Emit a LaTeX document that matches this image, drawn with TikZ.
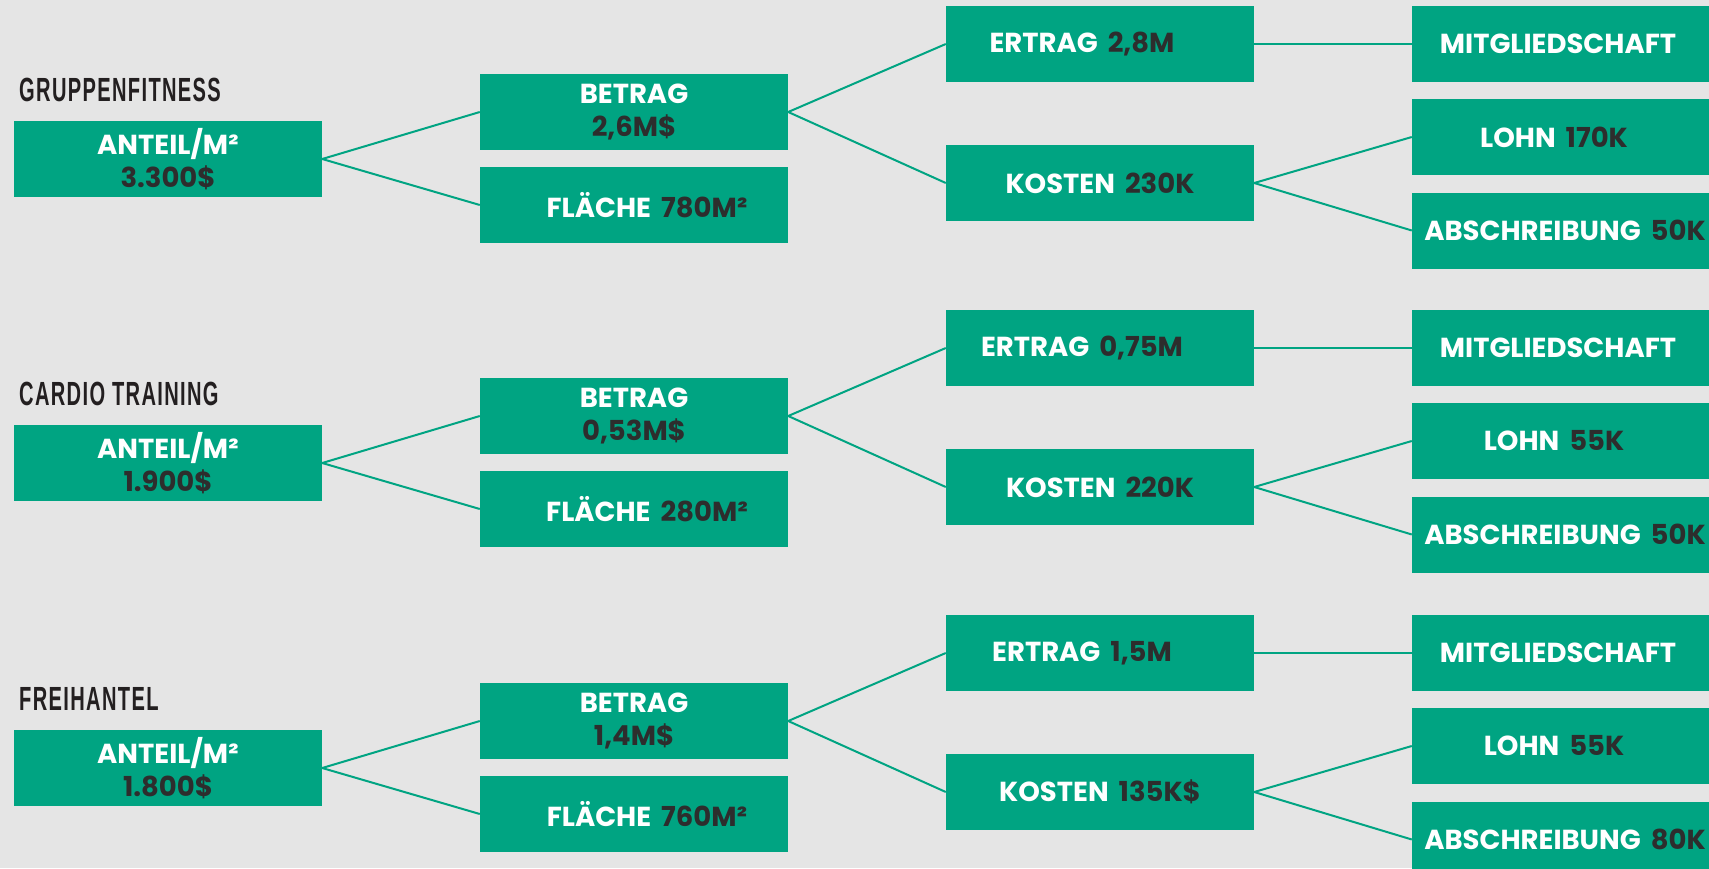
\documentclass[tikz,border=0pt]{standalone}
\usepackage{fontspec}
\setmainfont{Poppins}[UprightFont=* Bold, BoldFont=* Bold]
\newfontfamily\headfont{Liberation Sans}[UprightFont=* Bold, FakeStretch=0.6, LetterSpace=4]
\definecolor{bggray}{HTML}{E5E5E5}
\definecolor{boxgreen}{HTML}{00A482}
\definecolor{darktext}{HTML}{2D2D2D}
\definecolor{headtext}{HTML}{231F20}
\tikzset{
  box/.style={fill=boxgreen, minimum width=308pt, minimum height=76pt, inner sep=0pt},
  txt/.style={text=white, align=center, inner sep=0pt, font=\fontsize{27.5}{33}\selectfont},
  head/.style={anchor=base west, inner sep=0pt, text=headtext, font=\headfont\fontsize{33.5}{36}\selectfont},
  conn/.style={draw=boxgreen, line width=2pt}
}
\newcommand{\num}[1]{\textcolor{darktext}{#1}}
\newcommand{\val}[1]{\hspace{10pt}\textcolor{darktext}{#1}}
\newcommand{\bx}[5]{%
  \node[box] (#1) at (#2,#3) {};
  \node[txt, xshift=#4pt] (#1-t) at (#1.center) {#5};}
\newcommand{\grp}[9]{%
  \begin{scope}[yshift=-#2pt]
    \node[head] (#1-head) at (19,101) {#3};
    \bx{#1-a}{168}{159}{0}{ANTEIL/M²\\\num{#4}}
    \bx{#1-b}{634}{112}{0}{BETRAG\\\num{#5}}
    \bx{#1-f}{634}{205}{13}{FLÄCHE\val{#6}}
    \bx{#1-e}{1100}{44}{-18}{ERTRAG\val{#7}}
    \bx{#1-k}{1100}{183}{0}{KOSTEN\val{#8}}
    \bx{#1-m}{1566}{44}{-8}{MITGLIEDSCHAFT}
    \bx{#1-l}{1566}{137}{-12}{LOHN\val{#9}}
    \draw[conn] (#1-a.east) -- (#1-b.west);
    \draw[conn] (#1-a.east) -- (#1-f.west);
    \draw[conn] (#1-b.east) -- (#1-e.west);
    \draw[conn] (#1-b.east) -- (#1-k.west);
    \draw[conn] (#1-e.east) -- (#1-m.west);
    \draw[conn] (#1-k.east) -- (#1-l.west);
  \end{scope}}
\newcommand{\abs}[4]{%
  \begin{scope}[yshift=-#2pt]
    \bx{#1-s}{1566}{230.5}{#4}{ABSCHREIBUNG\val{#3}}
    \draw[conn] (#1-k.east) -- (#1-s.west);
  \end{scope}}
\begin{document}
\begin{tikzpicture}[x=1pt,y=-1pt]
\useasboundingbox (0,0) rectangle (1709,868);
\clip (0,0) rectangle (1709,868);
\fill[bggray] (0,0) rectangle (1709,868);
\grp{g1}{0}{GRUPPENFITNESS}{3.300\$}{2,6M\$}{780M²}{2,8M}{230K}{170K}
\abs{g1}{0}{50K}{-1}
\grp{g2}{304}{CARDIO TRAINING}{1.900\$}{0,53M\$}{280M²}{0,75M}{220K}{55K}
\abs{g2}{304}{50K}{-1}
\grp{g3}{609}{FREIHANTEL}{1.800\$}{1,4M\$}{760M²}{1,5M}{135K\$}{55K}
\abs{g3}{609}{80K}{-1}
\end{tikzpicture}
\end{document}
